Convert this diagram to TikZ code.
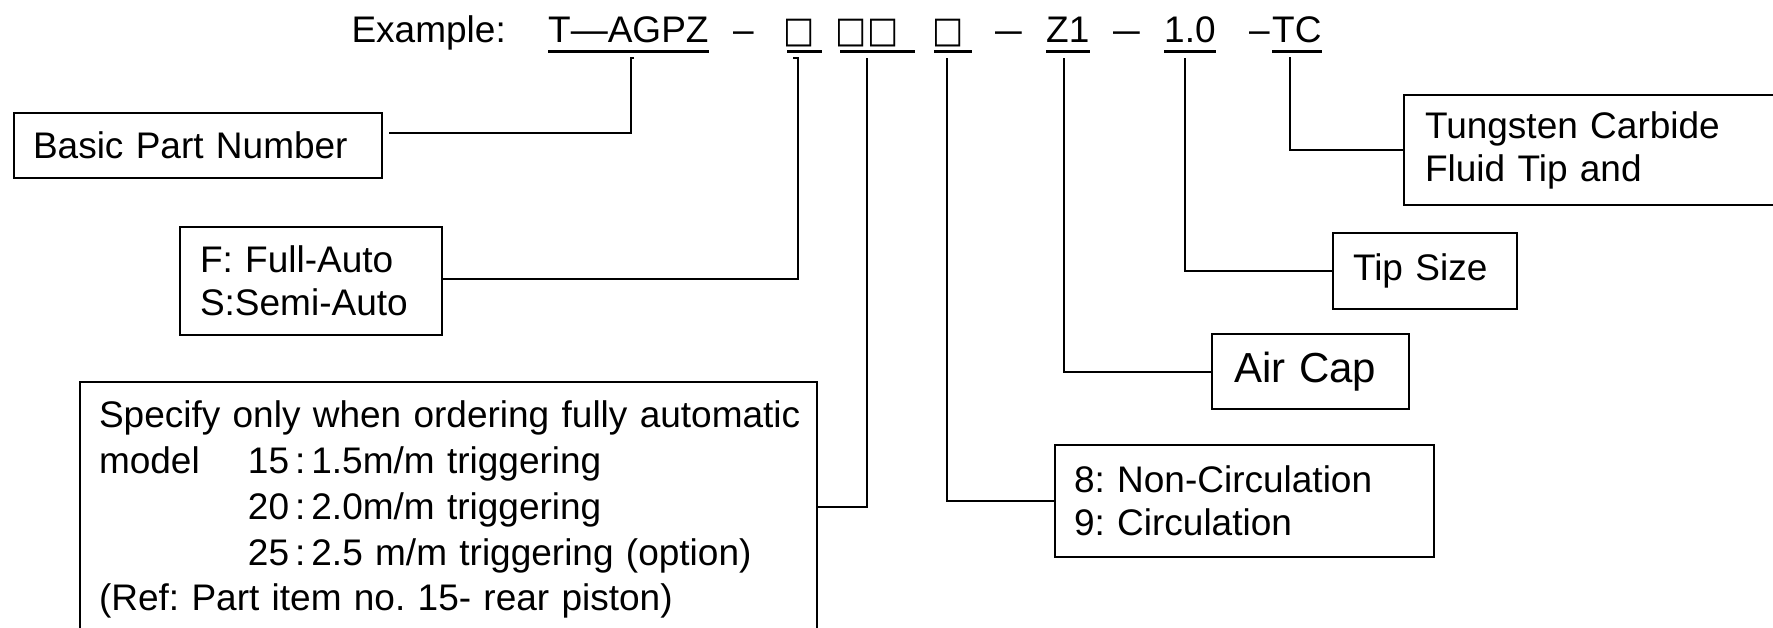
\documentclass[tikz,border=0pt]{standalone}
\usepackage{fontspec}
\setmainfont{Liberation Sans}
\newfontfamily\sqfont{DejaVu Sans}
\frenchspacing
\newcommand{\cln}{\kern6pt:\kern6pt}
\begin{document}
\begin{tikzpicture}[x=1pt,y=-1pt,
  box/.style={draw, line width=2pt, anchor=north west, inner ysep=0pt, align=left,
    font=\fontsize{37pt}{43pt}\selectfont},
  conn/.style={line width=2pt},
  uline/.style={line width=3pt},
  lbl/.style={anchor=base west, inner sep=0pt, font=\fontsize{37pt}{43pt}\selectfont},
  sq/.style={anchor=base, inner sep=0pt, font=\sqfont\fontsize{33pt}{33pt}\selectfont},
]
\useasboundingbox (0,0) rectangle (1773,627);
\clip (0,0) rectangle (1773,627);

% ---- top row: the example part number
\node[lbl, anchor=base east] (ex) at (506,42) {Example:};
\node[lbl] (pn) at (548,42) {T—AGPZ};
\node[lbl] (d1) at (733,42) {–};
\node[sq] (s1) at (799,42) {\scalebox{1}[1.1]{□}};
\node[sq] (s2) at (867,42) {\scalebox{1}[1.1]{□□}};
\node[sq] (s3) at (948,42) {\scalebox{1}[1.1]{□}};
\node[lbl] (d2) at (995,42) {\scalebox{1.3}[1]{–}};
\node[lbl] (z1) at (1046,42) {Z1};
\node[lbl] (d3) at (1113,42) {\scalebox{1.3}[1]{–}};
\node[lbl] (ts) at (1164,42) {1.0};
\node[lbl] (d4) at (1249,42) {–};
\node[lbl] (tc) at (1272,42) {TC};

% underlines
\draw[uline] ([yshift=-9pt]pn.base west) -- ([yshift=-9pt]pn.base east);
\draw[uline] (787,51) -- (822,51);
\draw[uline] (840,51) -- (915,51);
\draw[uline] (934,51) -- (972,51);
\draw[uline] ([yshift=-9pt]z1.base west) -- ([yshift=-9pt]z1.base east);
\draw[uline] ([yshift=-9pt]ts.base west) -- ([yshift=-9pt]ts.base east);
\draw[uline] ([yshift=-9pt]tc.base west) -- ([yshift=-9pt]tc.base east);

% ---- description boxes
\node[box, minimum width=368pt, minimum height=65pt, inner xsep=19pt, text width=330pt]
  (basic) at (13,112) {Basic Part Number};
\node[box, minimum width=262pt, minimum height=108pt, inner xsep=20pt, text width=222pt]
  (fa) at (179,226) {F: Full-Auto\\S:Semi-Auto};
\node[box, inner xsep=19pt, inner ysep=19pt, text width=699pt,
  font=\fontsize{37pt}{45.75pt}\selectfont]
  (spec) at (79,381) {\mbox{Specify only when ordering fully automatic}\\
  \makebox[149pt][l]{model}15\cln1.5m/m triggering\\
  \hspace*{149pt}20\cln2.0m/m triggering\\
  \hspace*{149pt}25\cln2.5 m/m triggering (option)\\
  \mbox{(Ref: Part item no. 15- rear piston)}\rule[-30pt]{0pt}{30pt}};
\node[box, minimum width=379pt, minimum height=112pt, inner xsep=19pt, text width=341pt]
  (nc) at (1054,444) {8: Non-Circulation\\9: Circulation};
\node[box, minimum width=197pt, minimum height=75pt, inner xsep=22pt, text width=153pt,
  font=\fontsize{42pt}{48pt}\selectfont]
  (air) at (1211,333) {Air Cap};
\node[box, minimum width=184pt, minimum height=76pt, inner xsep=20pt, text width=144pt]
  (tip) at (1332,232) {Tip Size};
\node[box, minimum width=420pt, minimum height=110pt, inner xsep=21pt, text width=378pt]
  (tcb) at (1403,94) {Tungsten Carbide\\Fluid Tip and};

% ---- connector start points under the code segments
\coordinate (c1) at (631,58);
\coordinate (c2) at (798,58);
\coordinate (c3) at (867,58);
\coordinate (c4) at (947,58);
\coordinate (c5) at (1064,58);
\coordinate (c6) at (1185,58);
\coordinate (c7) at (1290,57);

\draw[conn] ([xshift=3pt]c1) -- (c1) |- ([xshift=6pt,yshift=12.5pt]basic.east);
\draw[conn] ([xshift=-5pt]c2) -- (c2) |- ([yshift=2pt]fa.east);
\draw[conn] (c3) |- ([yshift=-126pt]spec.north east);
\draw[conn] (c4) |- (nc.west);
\draw[conn] (c5) |- (air.west);
\draw[conn] (c6) |- (tip.west);
\draw[conn] (c7) |- (tcb.west);
\end{tikzpicture}
\end{document}
